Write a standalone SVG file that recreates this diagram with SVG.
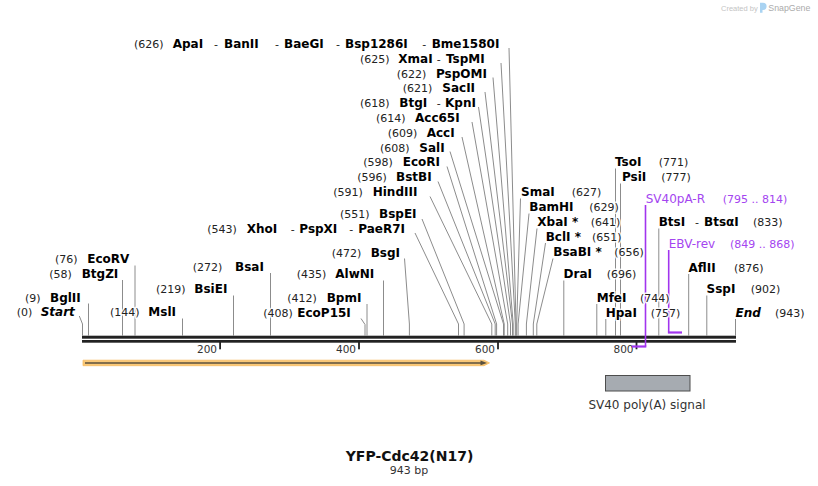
<svg xmlns="http://www.w3.org/2000/svg" width="818" height="486" viewBox="0 0 818 486">
<style>
.n{font-family:"DejaVu Sans",Verdana,sans-serif;font-size:12px;font-weight:bold;fill:#000;stroke:#fff;stroke-width:3;stroke-opacity:0.85;paint-order:stroke;stroke-linejoin:round}
.i{font-style:italic}
.p{font-family:"DejaVu Sans",Verdana,sans-serif;font-size:11px;fill:#222;stroke:#fff;stroke-width:3;stroke-opacity:0.85;paint-order:stroke;stroke-linejoin:round}
.pr{font-family:"DejaVu Sans",Verdana,sans-serif;font-size:12px;fill:#a445f0;stroke:#fff;stroke-width:3;stroke-opacity:0.85;paint-order:stroke;stroke-linejoin:round}
.prn{font-family:"DejaVu Sans",Verdana,sans-serif;font-size:11px;fill:#a445f0;stroke:#fff;stroke-width:3;stroke-opacity:0.85;paint-order:stroke;stroke-linejoin:round}
.ld{stroke:#8c8c8c;stroke-width:1;fill:none}
.tk{font-family:"DejaVu Sans",Verdana,sans-serif;font-size:10.5px;fill:#333;text-anchor:end}
.pl{stroke:#a134ee;fill:none}
</style>
<rect width="818" height="486" fill="#fff"/>
<g id="watermark">
<text x="721" y="10.5" font-family="Liberation Sans,Arial,sans-serif" font-size="7.5" fill="#c4c4c4">Created by</text>
<path d="M760,2.7 h3 a3.6,3.6 0 0 1 0,7.2 h-0.5 v2.8 h-2.5 z" fill="#a9d3f2"/>
<text x="768.3" y="11" font-family="Liberation Sans,Arial,sans-serif" font-size="8.8" fill="#ababab">SnapGene</text>
</g>
<g id="connectors">
<path class="ld" d="M509,48 L516,324 V335.5"/>
<path class="ld" d="M501,63 L515.3,324 V335.5"/>
<path class="ld" d="M493,77.5 L513.2,324 V335.5"/>
<path class="ld" d="M485,92 L512.5,324 V335.5"/>
<path class="ld" d="M478.5,107 L510.5,324 V335.5"/>
<path class="ld" d="M472,122 L507.7,324 V335.5"/>
<path class="ld" d="M462,137 L504.2,324 V335.5"/>
<path class="ld" d="M450,151.5 L503.5,324 V335.5"/>
<path class="ld" d="M447,166.5 L496.6,324 V335.5"/>
<path class="ld" d="M438,181.5 L495.2,324 V335.5"/>
<path class="ld" d="M430,196.5 L491.8,324 V335.5"/>
<path class="ld" d="M422,219 L464.1,324 V335.5"/>
<path class="ld" d="M415,233 L458.5,324 V335.5"/>
<path class="ld" d="M404.5,258.5 L409.4,324 V335.5"/>
<path class="ld" d="M270.5,273 V335.5"/>
<path class="ld" d="M383.5,280.5 V335.5"/>
<path class="ld" d="M233.5,295.5 V335.5"/>
<path class="ld" d="M367,304 V335.5"/>
<path class="ld" d="M361,318.5 L365,324.5 V335.5"/>
<path class="ld" d="M182.5,318.5 V335.5"/>
<path class="ld" d="M88.5,303.5 V335.5"/>
<path class="ld" d="M79.3,316 L82.5,324 V335.5"/>
<path class="ld" d="M122.5,280 V335.5"/>
<path class="ld" d="M135,265.5 V335.5"/>
<path class="ld" d="M520.5,198.5 L516.7,324 V335.5"/>
<path class="ld" d="M529,213.5 L518.1,324 V335.5"/>
<path class="ld" d="M537,228.5 L526.4,324 V335.5"/>
<path class="ld" d="M545.5,243 L533.3,324 V335.5"/>
<path class="ld" d="M553,258.5 L536.8,324 V335.5"/>
<path class="ld" d="M563.8,280.5 V335.5"/>
<path class="ld" d="M596.8,304 V335.5"/>
<path class="ld" d="M605.8,319 V335.5"/>
<path class="ld" d="M615.5,168.5 V335.5"/>
<path class="ld" d="M620.5,183.5 V335.5"/>
<path class="ld" d="M658.8,228.5 V335.5"/>
<path class="ld" d="M688.7,274 V335.5"/>
<path class="ld" d="M706.8,295.5 V335.5"/>
<path class="ld" d="M735.5,319 V335.5"/>
</g>
<g id="backbone">
<rect x="82" y="335.7" width="654" height="3" fill="#222"/>
<rect x="82" y="340" width="654" height="2.7" fill="#222"/>
<rect x="219.2" y="341" width="1.8" height="8.3" fill="#222"/>
<rect x="358.1" y="341" width="1.8" height="8.3" fill="#222"/>
<rect x="497.1" y="341" width="1.8" height="8.3" fill="#222"/>
<rect x="635.6" y="341" width="1.8" height="8.3" fill="#222"/>
<text class="tk" x="217" y="352.5">200</text>
<text class="tk" x="356" y="352.5">400</text>
<text class="tk" x="495" y="352.5">600</text>
<text class="tk" x="633.5" y="352.5">800</text>
</g>
<g id="feature-yfp-cdc42">
<path d="M83,360.2 H484 L489.5,362.9 L484,365.7 H83 Z" fill="#f9c877" stroke="#f7bd62" stroke-width="0.8"/>
<path d="M85,362.9 H482" stroke="#5a513e" stroke-width="1.5"/>
<path d="M480.5,360.6 L487,362.9 L480.5,365.2 Z" fill="#5a513e"/>
</g>
<g id="feature-sv40polyA">
<rect x="605.5" y="375.5" width="84.5" height="15.5" fill="#a6abb1" stroke="#4d4d4d" stroke-width="1"/>
<text x="647" y="409" font-family="DejaVu Sans,Verdana,sans-serif" font-size="12" fill="#333" text-anchor="middle">SV40 poly(A) signal</text>
</g>
<g id="primer-sv40pa-r">
<path class="pl" d="M645.5,205 V346.5" stroke-width="1.6"/>
<path class="pl" d="M631.7,346.5 H646.3" stroke-width="2.2"/>
</g>
<g id="primer-ebv-rev">
<path class="pl" d="M668.7,250 V332.5" stroke-width="1.6"/>
<path class="pl" d="M667.9,332.5 H682" stroke-width="2.2"/>
</g>
<g id="site-626"><text class="p" x="134" y="48">(626)</text><text class="n" x="172.7" y="48">ApaI</text><text class="p" x="214" y="48">-</text><text class="n" x="224" y="48">BanII</text><text class="p" x="275" y="48">-</text><text class="n" x="284" y="48">BaeGI</text><text class="p" x="336" y="48">-</text><text class="n" x="345" y="48">Bsp1286I</text><text class="p" x="422.3" y="48">-</text><text class="n" x="431.7" y="48">Bme1580I</text></g>
<g id="site-625"><text class="p" x="360" y="63">(625)</text><text class="n" x="398.3" y="63">XmaI</text><text class="p" x="436.7" y="63">-</text><text class="n" x="446" y="63">TspMI</text></g>
<g id="site-622"><text class="p" x="396.7" y="77.5">(622)</text><text class="n" x="436" y="77.5">PspOMI</text></g>
<g id="site-621"><text class="p" x="402.7" y="92">(621)</text><text class="n" x="442.3" y="92">SacII</text></g>
<g id="site-618"><text class="p" x="360" y="106.7">(618)</text><text class="n" x="399.3" y="106.7">BtgI</text><text class="p" x="436.7" y="106.7">-</text><text class="n" x="445" y="106.7">KpnI</text></g>
<g id="site-614"><text class="p" x="376" y="121.5">(614)</text><text class="n" x="415" y="121.5">Acc65I</text></g>
<g id="site-609"><text class="p" x="387.7" y="136.5">(609)</text><text class="n" x="426.7" y="136.5">AccI</text></g>
<g id="site-608"><text class="p" x="380" y="151.5">(608)</text><text class="n" x="419.3" y="151.5">SalI</text></g>
<g id="site-598"><text class="p" x="363.3" y="166.3">(598)</text><text class="n" x="402.7" y="166.3">EcoRI</text></g>
<g id="site-596"><text class="p" x="357.3" y="181.2">(596)</text><text class="n" x="396" y="181.2">BstBI</text></g>
<g id="site-591"><text class="p" x="333.3" y="196.3">(591)</text><text class="n" x="372.7" y="196.3">HindIII</text></g>
<g id="site-551"><text class="p" x="340" y="218">(551)</text><text class="n" x="379" y="218">BspEI</text></g>
<g id="site-543"><text class="p" x="207.3" y="233">(543)</text><text class="n" x="246.7" y="233">XhoI</text><text class="p" x="290.7" y="233">-</text><text class="n" x="299.3" y="233">PspXI</text><text class="p" x="349.3" y="233">-</text><text class="n" x="358.3" y="233">PaeR7I</text></g>
<g id="site-472"><text class="p" x="331.7" y="256.5">(472)</text><text class="n" x="370.7" y="256.5">BsgI</text></g>
<g id="site-76"><text class="p" x="55" y="263">(76)</text><text class="n" x="87.3" y="263">EcoRV</text></g>
<g id="site-272"><text class="p" x="192.7" y="270.7">(272)</text><text class="n" x="235" y="270.7">BsaI</text></g>
<g id="site-58"><text class="p" x="49.3" y="277.7">(58)</text><text class="n" x="81.7" y="277.7">BtgZI</text></g>
<g id="site-435"><text class="p" x="296.7" y="278">(435)</text><text class="n" x="335.3" y="278">AlwNI</text></g>
<g id="site-219"><text class="p" x="156" y="293.3">(219)</text><text class="n" x="194.3" y="293.3">BsiEI</text></g>
<g id="site-9"><text class="p" x="25" y="301.5">(9)</text><text class="n" x="50" y="301.5">BglII</text></g>
<g id="site-412"><text class="p" x="287.3" y="301.5">(412)</text><text class="n" x="326.7" y="301.5">BpmI</text></g>
<g id="site-0"><text class="p" x="16.7" y="316.3">(0)</text><text class="n i" x="40.7" y="316.3">Start</text></g>
<g id="site-144"><text class="p" x="110" y="316.3">(144)</text><text class="n" x="148.3" y="316.3">MslI</text></g>
<g id="site-408"><text class="p" x="263.3" y="316.5">(408)</text><text class="n" x="297.3" y="316.5">EcoP15I</text></g>
<g id="site-771"><text class="n" x="615" y="166">TsoI</text><text class="p" x="658.7" y="166">(771)</text></g>
<g id="site-777"><text class="n" x="622" y="181">PsiI</text><text class="p" x="661.3" y="181">(777)</text></g>
<g id="site-627"><text class="n" x="521" y="196">SmaI</text><text class="p" x="571.7" y="196">(627)</text></g>
<g id="site-629"><text class="n" x="529.3" y="211">BamHI</text><text class="p" x="589.3" y="211">(629)</text></g>
<g id="site-641"><text class="n" x="537.3" y="226">XbaI *</text><text class="p" x="590.7" y="226">(641)</text></g>
<g id="site-651"><text class="n" x="545.7" y="240.7">BclI *</text><text class="p" x="592" y="240.7">(651)</text></g>
<g id="site-656"><text class="n" x="553.3" y="256">BsaBI *</text><text class="p" x="614.3" y="256">(656)</text></g>
<g id="site-696"><text class="n" x="563.5" y="278">DraI</text><text class="p" x="606.7" y="278">(696)</text></g>
<g id="site-744"><text class="n" x="596.7" y="301.5">MfeI</text><text class="p" x="640" y="301.5">(744)</text></g>
<g id="site-757"><text class="n" x="605.7" y="316.5">HpaI</text><text class="p" x="650.7" y="316.5">(757)</text></g>
<g id="label-sv40pa-r"><text class="pr" x="645.7" y="203">SV40pA-R</text><text class="prn" x="722.7" y="203">(795 .. 814)</text></g>
<g id="site-833"><text class="n" x="658.7" y="226">BtsI</text><text class="p" x="695" y="226">-</text><text class="n" x="704" y="226">BtsαI</text><text class="p" x="753" y="226">(833)</text></g>
<g id="label-ebv-rev"><text class="pr" x="668.7" y="248">EBV-rev</text><text class="prn" x="730" y="248">(849 .. 868)</text></g>
<g id="site-876"><text class="n" x="688.5" y="271.5">AflII</text><text class="p" x="734" y="271.5">(876)</text></g>
<g id="site-902"><text class="n" x="706.5" y="293">SspI</text><text class="p" x="750.7" y="293">(902)</text></g>
<g id="site-943"><text class="n i" x="735.5" y="316.5">End</text><text class="p" x="775" y="316.5">(943)</text></g>
<g id="title">
<text x="409.5" y="460.7" font-family="DejaVu Sans,Verdana,sans-serif" font-size="14" font-weight="bold" fill="#111" text-anchor="middle">YFP-Cdc42(N17)</text>
<text x="409" y="473.5" font-family="DejaVu Sans,Verdana,sans-serif" font-size="11" fill="#333" text-anchor="middle">943 bp</text>
</g>
</svg>
